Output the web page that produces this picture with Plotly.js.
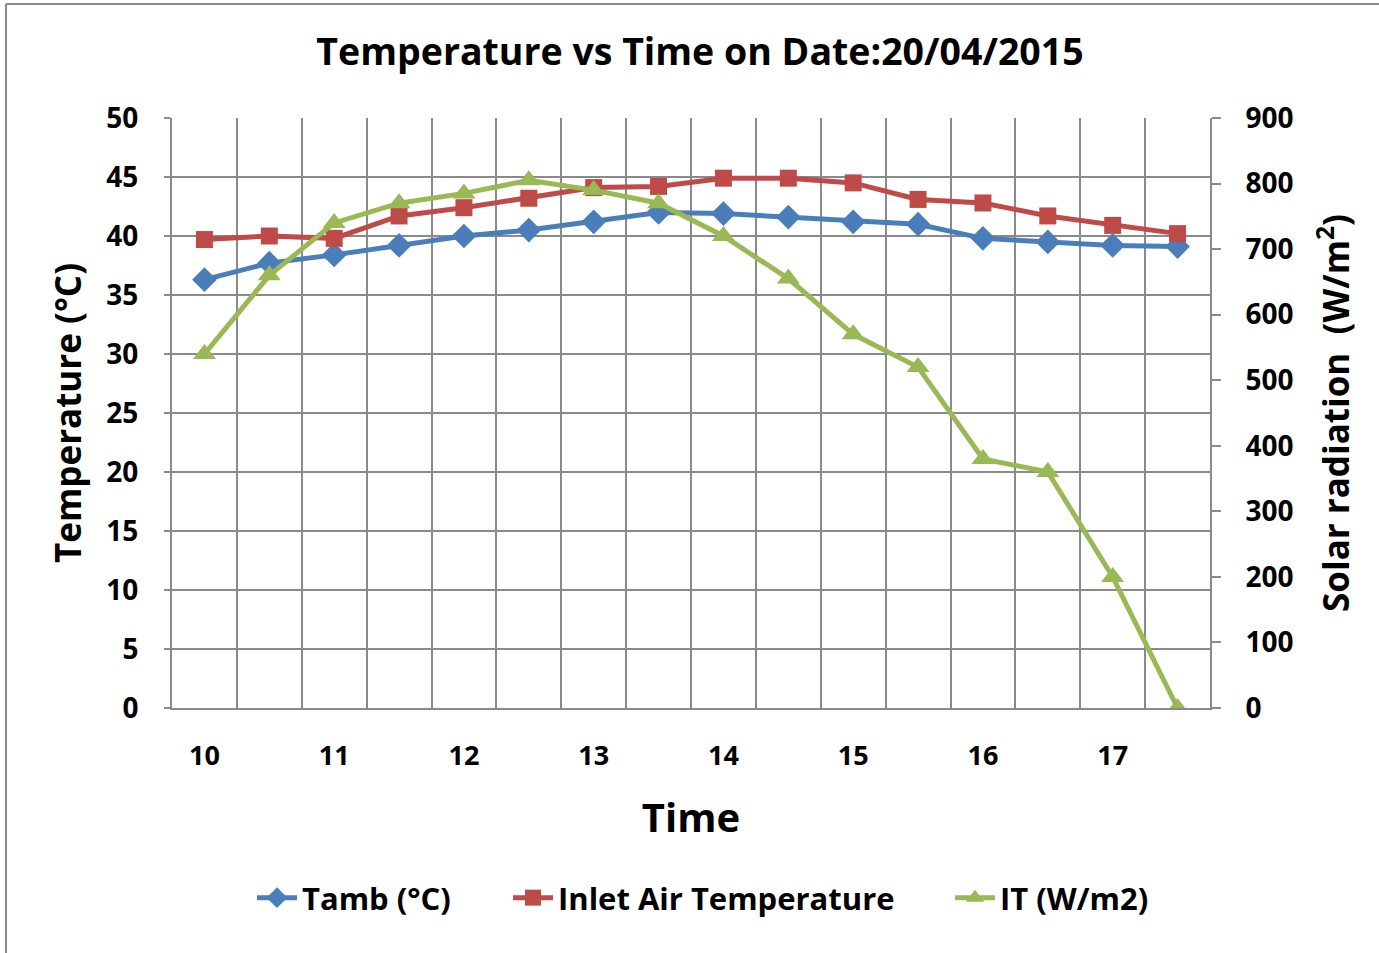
<!DOCTYPE html>
<html>
<head>
<meta charset="utf-8">
<script src="https://cdn.plot.ly/plotly-3.0.1.min.js"></script>
<style>html,body{margin:0;padding:0;background:#fff;}#chart{width:1379px;height:953px;}</style>
</head>
<body>
<div id="chart"></div>
<script>
// Data
const time = [10, 10.5, 11, 11.5, 12, 12.5, 13, 13.5, 14, 14.5, 15, 15.5, 16, 16.5, 17, 17.5];
const tamb = [36.3, 37.7, 38.4, 39.2, 40.0, 40.5, 41.2, 42.0, 41.9, 41.6, 41.2, 41.0, 39.8, 39.5, 39.2, 39.1];
const inletAir = [39.7, 40.0, 39.8, 41.7, 42.4, 43.2, 44.1, 44.2, 44.9, 44.9, 44.5, 43.1, 42.8, 41.7, 40.9, 40.2];
const solarIT = [540, 660, 740, 770, 785, 805, 790, 770, 720, 655, 570, 520, 380, 360, 200, 0];
const xTickVals = [10, 11, 12, 13, 14, 15, 16, 17];
const xTickText = ['10', '11', '12', '13', '14', '15', '16', '17'];

const FONT = '"Open Sans", Lato, sans-serif';
const GRID = '#8a8a8a';

const traces = [
  {x: time, y: tamb, name: 'Tamb (°C)', type: 'scatter', mode: 'lines+markers', legend: 'legend',
   line: {color: '#4A7EBB', width: 5}, marker: {symbol: 'diamond', size: 19, color: '#4A7EBB'}},
  {x: time, y: inletAir, name: 'Inlet Air Temperature', type: 'scatter', mode: 'lines+markers', legend: 'legend2',
   line: {color: '#BE4B48', width: 5}, marker: {symbol: 'square', size: 17, color: '#BE4B48'}},
  {x: time, y: solarIT, name: 'IT (W/m2)', type: 'scatter', mode: 'lines+markers', yaxis: 'y2', legend: 'legend3',
   line: {color: '#98B954', width: 5}, marker: {symbol: 'triangle-up', size: 20, color: '#98B954'}}
];

const legendFont = {family: FONT, size: 31, color: '#000', weight: 'bold'};
function px2paper(p) { return (p - 172) / 1038; }
const legendY = -0.322;

const layout = {
  width: 1379, height: 953,
  paper_bgcolor: '#fff', plot_bgcolor: '#fff',
  margin: {l: 172, r: 169, t: 118, b: 245},
  font: {family: FONT, color: '#000', size: 26},
  title: {text: '<b>Temperature vs Time on Date:20/04/2015</b>', font: {family: FONT, size: 37.5, color: '#000'},
          x: 700 / 1379, xanchor: 'center', y: 1 - 52/953, yanchor: 'middle'},
  showlegend: true,
  legend: {orientation: 'h', x: px2paper(252), xanchor: 'left', y: legendY, yanchor: 'middle', font: legendFont, itemwidth: 40},
  legend2: {orientation: 'h', x: px2paper(508), xanchor: 'left', y: legendY, yanchor: 'middle', font: legendFont, itemwidth: 40},
  legend3: {orientation: 'h', x: px2paper(950), xanchor: 'left', y: legendY, yanchor: 'middle', font: legendFont, itemwidth: 40},
  xaxis: {
    range: [9.75, 17.75], tickvals: xTickVals, ticktext: xTickText,
    showgrid: false, zeroline: false, ticks: '', ticklabelstandoff: 23,
    showline: true, linecolor: GRID, linewidth: 2,
    tickfont: {family: FONT, size: 27, color: '#000', weight: 'bold'},
    minor: {tick0: 9.75, dtick: 0.5, showgrid: true, gridcolor: GRID, gridwidth: 2, ticks: ''},
    title: {text: '<b>Time</b>', font: {family: FONT, size: 40, color: '#000'}, standoff: 32}
  },
  yaxis: {
    range: [0, 50], dtick: 5, tick0: 0,
    showgrid: true, gridcolor: GRID, gridwidth: 2, zeroline: false,
    showline: true, linecolor: GRID, linewidth: 2,
    ticks: 'outside', ticklen: 6, tickcolor: GRID, tickwidth: 2, ticklabelstandoff: 20,
    tickfont: {family: FONT, size: 28, color: '#000', weight: 'bold'},
    title: {text: '<b>Temperature (°C)</b>', font: {family: FONT, size: 35, color: '#000'}, standoff: 14}
  },
  yaxis2: {
    range: [0, 900], dtick: 100, tick0: 0, overlaying: 'y', side: 'right',
    showgrid: false, zeroline: false,
    showline: true, linecolor: GRID, linewidth: 2,
    ticks: 'outside', ticklen: 9, tickcolor: GRID, tickwidth: 2, ticklabelstandoff: 19,
    tickfont: {family: FONT, size: 28, color: '#000', weight: 'bold'},
    title: {text: '<b>Solar radiation  (W/m<sup>2</sup>)</b>', font: {family: FONT, size: 35, color: '#000'}, standoff: 32}
  },
  shapes: [
    {type: 'line', xref: 'paper', yref: 'paper', x0: px2paper(6), x1: px2paper(6), y0: (708 - 4) / 590, y1: (708 - 960) / 590,
     line: {color: GRID, width: 2}},
    {type: 'line', xref: 'paper', yref: 'paper', x0: px2paper(6), x1: px2paper(1385), y0: (708 - 4) / 590, y1: (708 - 4) / 590,
     line: {color: GRID, width: 2}}
  ]
};

Plotly.newPlot('chart', traces, layout, {displayModeBar: false, staticPlot: true});
</script>
</body>
</html>
